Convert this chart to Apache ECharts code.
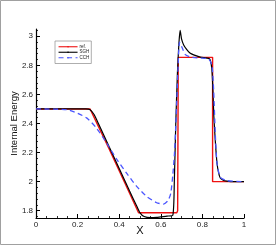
<!DOCTYPE html>
<html>
<head>
<meta charset="utf-8">
<script src="https://cdn.jsdelivr.net/npm/echarts@6/dist/echarts.min.js"></script>
<style>html,body{margin:0;padding:0;background:#fff}#c{width:277px;height:246px}</style>
</head>
<body>
<div id="c"></div>
<script>
var seriesNames = ['ref.', 'SGH', 'CCH'];
var xTicks = [0, 0.2, 0.4, 0.6, 0.8, 1];
var yTicks = [1.8, 2, 2.2, 2.4, 2.6, 2.8, 3];
var yMinorTicks = [1.76, 1.84, 1.88, 1.92, 1.96, 2.04, 2.08, 2.12, 2.16, 2.24, 2.28, 2.32, 2.36, 2.44, 2.48, 2.52, 2.56, 2.64, 2.68, 2.72, 2.76, 2.84, 2.88, 2.92, 2.96, 3.04];

var refX = [0, 0.26, 0.30, 0.35, 0.40, 0.45, 0.493, 0.677, 0.681, 0.684, 0.849, 0.849, 1];
var refY = [2.5, 2.5, 2.38, 2.23, 2.075, 1.92, 1.786, 1.786, 1.80, 2.855, 2.855, 2.0, 2.0];

var sghX = [0, 0.24, 0.26, 0.28, 0.30, 0.35, 0.40, 0.45, 0.48, 0.50, 0.52, 0.55, 0.58, 0.60, 0.63, 0.658, 0.665, 0.672, 0.68, 0.687, 0.693, 0.70, 0.71, 0.725, 0.74, 0.758, 0.79, 0.83, 0.838, 0.845, 0.85, 0.855, 0.862, 0.87, 0.878, 0.886, 0.9, 0.918, 0.95, 1];
var sghY = [2.5, 2.5, 2.495, 2.46, 2.4, 2.245, 2.09, 1.935, 1.845, 1.785, 1.76, 1.752, 1.754, 1.758, 1.763, 1.77, 2.0, 2.4, 2.75, 2.95, 3.04, 2.98, 2.94, 2.908, 2.885, 2.872, 2.857, 2.848, 2.835, 2.78, 2.65, 2.45, 2.28, 2.13, 2.06, 2.025, 2.01, 2.004, 2.0, 2.0];

var cchX = [0, 0.15, 0.2, 0.245, 0.29, 0.34, 0.39, 0.44, 0.485, 0.533, 0.58, 0.613, 0.635, 0.648, 0.658, 0.666, 0.674, 0.682, 0.69, 0.70, 0.718, 0.742, 0.79, 0.83, 0.846, 0.854, 0.862, 0.87, 0.886, 0.918, 1];
var cchY = [2.5, 2.495, 2.47, 2.437, 2.37, 2.265, 2.15, 2.05, 1.966, 1.897, 1.855, 1.846, 1.87, 1.92, 2.05, 2.2, 2.45, 2.75, 2.96, 2.93, 2.874, 2.857, 2.85, 2.843, 2.8, 2.63, 2.33, 2.13, 2.03, 2.007, 2.0];

function zip(a, b) { return a.map(function (v, i) { return [v, b[i]]; }); }

var FONT = 'Liberation Sans, Arial, sans-serif';
var chart = echarts.init(document.getElementById('c'), null, { renderer: 'canvas' });
chart.setOption({
  animation: false,
  backgroundColor: '#fff',
  grid: { left: 36, right: 33, top: 29, bottom: 28, containLabel: false },
  graphic: [{
    type: 'rect', shape: { x: 0.5, y: 0.5, width: 275, height: 244 },
    style: { fill: 'none', stroke: '#a0a0a0', lineWidth: 1 }, z: 100
  }],
  legend: {
    orient: 'vertical', left: 55, top: 41,
    data: seriesNames,
    itemWidth: 19, itemHeight: 2, itemGap: 0,
    padding: [3, 2, 3, 3],
    borderColor: '#999', borderWidth: 0.8,
    lineStyle: { width: 1.1 },
    textStyle: { fontSize: 4.5, lineHeight: 5.5, fontFamily: FONT, color: '#222', padding: [0, 0, 0, -3] }
  },
  xAxis: {
    type: 'value', min: 0, max: 1, interval: 0.2,
    name: 'X', nameLocation: 'middle', nameGap: 7, nameMoveOverlap: false,
    nameTextStyle: { fontSize: 11, fontFamily: FONT, color: '#111' },
    axisLine: { onZero: false, lineStyle: { color: '#000', width: 1.2 } },
    axisTick: { inside: true, length: 4, lineStyle: { color: '#000', width: 1 } },
    minorTick: { show: true, splitNumber: 4, length: 2, lineStyle: { color: '#000', width: 0.8 } },
    axisLabel: { margin: 3, fontSize: 8, fontFamily: FONT, color: '#222', customValues: xTicks },
    splitLine: { show: false }
  },
  yAxis: [{
    type: 'value', min: 1.75, max: 3.05,
    name: 'Internal Energy', nameLocation: 'middle', nameGap: 17, nameMoveOverlap: false,
    nameTextStyle: { fontSize: 9.5, fontFamily: FONT, color: '#111' },
    axisLine: { onZero: false, lineStyle: { color: '#000', width: 1.2 } },
    axisTick: { inside: true, length: 4, customValues: yTicks, lineStyle: { color: '#000', width: 1 } },
    axisLabel: { margin: 3, fontSize: 8, fontFamily: FONT, color: '#222', customValues: yTicks },
    splitLine: { show: false }
  }, {
    type: 'value', min: 1.75, max: 3.05, position: 'left', offset: 0,
    axisLine: { show: false },
    axisTick: { show: true, inside: true, length: 2, customValues: yMinorTicks, lineStyle: { color: '#000', width: 0.8 } },
    axisLabel: { show: false, customValues: yMinorTicks },
    splitLine: { show: false }
  }],
  series: [{
    name: seriesNames[0], type: 'line', data: zip(refX, refY), symbol: 'none',
    lineStyle: { color: '#ee1111', width: 1.4 }, itemStyle: { color: '#ee1111' }, z: 2
  }, {
    name: seriesNames[1], type: 'line', data: zip(sghX, sghY), symbol: 'none', smooth: 0.2,
    lineStyle: { color: '#000', width: 1.2 }, itemStyle: { color: '#000' }, z: 3
  }, {
    name: seriesNames[2], type: 'line', data: zip(cchX, cchY), symbol: 'none', smooth: 0.2,
    lineStyle: { color: '#4a55ff', width: 1.3, type: [5, 3.5] }, itemStyle: { color: '#4a55ff' }, z: 4
  }]
});
</script>
</body>
</html>
